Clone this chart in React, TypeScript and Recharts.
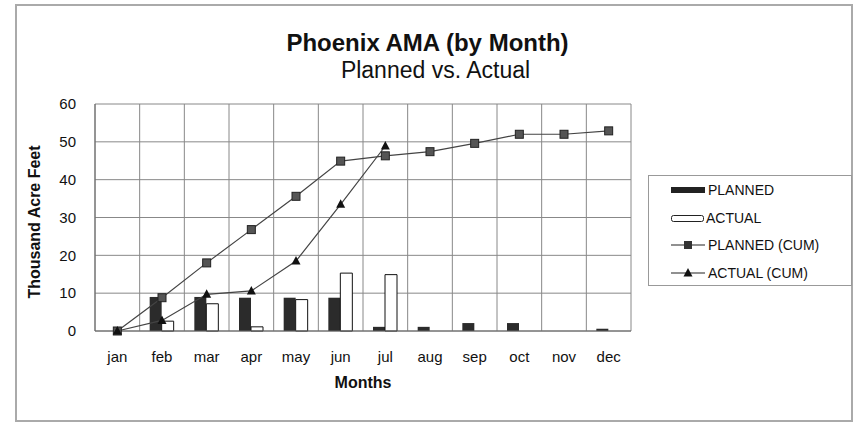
import React from 'react';
import { ComposedChart, Bar, Line, XAxis, YAxis, CartesianGrid } from 'recharts';

const months = ['jan', 'feb', 'mar', 'apr', 'may', 'jun', 'jul', 'aug', 'sep', 'oct', 'nov', 'dec'];
const planned = [0, 9.0, 9.0, 8.8, 8.8, 8.8, 1.1, 1.1, 2.1, 2.1, 0, 0.6];
const actual: (number | null)[] = [0, 2.6, 7.2, 1.1, 8.3, 15.3, 14.9, null, null, null, null, null];
const plannedCum = [0, 8.8, 18.0, 26.8, 35.6, 44.9, 46.3, 47.4, 49.6, 52.0, 52.0, 52.9];
const actualCum: (number | null)[] = [0, 2.8, 9.7, 10.6, 18.5, 33.5, 48.9, null, null, null, null, null];
const yTicks = [0, 10, 20, 30, 40, 50, 60];
const seriesNames = ['PLANNED', 'ACTUAL', 'PLANNED (CUM)', 'ACTUAL (CUM)'];

const data = months.map((m, i) => ({
  month: m,
  planned: planned[i],
  actual: actual[i],
  plannedCum: plannedCum[i],
  actualCum: actualCum[i],
}));

const FONT = '"Liberation Sans", Arial, sans-serif';

const SquareDot = (props: any) => {
  const { cx, cy, index } = props;
  if (cx == null || cy == null) return <g key={`s${index}`} />;
  return <rect key={`s${index}`} x={cx - 4} y={cy - 4} width={8} height={8} fill="#555" stroke="#222" strokeWidth={1} />;
};

const TriDot = (props: any) => {
  const { cx, cy, index } = props;
  if (cx == null || cy == null) return <g key={`t${index}`} />;
  return <polygon key={`t${index}`} points={`${cx},${cy - 5} ${cx - 4.5},${cy + 3.5} ${cx + 4.5},${cy + 3.5}`} fill="#111" />;
};

const LegendBox = () => {
  const rowH = 27.5;
  return (
    <div style={{ position: 'absolute', left: 648, top: 175, width: 204, height: 111, border: '1px solid #999', background: '#fff', boxSizing: 'border-box', fontFamily: FONT }}>
      {seriesNames.map((name, i) => (
        <div key={name} style={{ position: 'absolute', left: 0, top: 3 + i * rowH, height: 22, width: 204 }}>
          <svg width={40} height={22} style={{ position: 'absolute', left: 20, top: 0 }}>
            {i === 0 && <rect x={2} y={8} width={34} height={6} fill="#222" />}
            {i === 1 && <rect x={2.5} y={8.5} width={32} height={6} rx={2} fill="#fff" stroke="#222" strokeWidth={1} />}
            {i === 2 && (
              <g>
                <line x1={2} y1={11} x2={36} y2={11} stroke="#222" strokeWidth={1.2} />
                <rect x={15} y={7} width={8} height={8} fill="#333" />
              </g>
            )}
            {i === 3 && (
              <g>
                <line x1={2} y1={11} x2={36} y2={11} stroke="#222" strokeWidth={1.2} />
                <polygon points="19,6 14.5,14.5 23.5,14.5" fill="#111" />
              </g>
            )}
          </svg>
          <span style={{ position: 'absolute', left: i === 1 ? 57 : 59, top: 3, fontSize: 14, color: '#111', whiteSpace: 'nowrap' }}>{name}</span>
        </div>
      ))}
    </div>
  );
};

export default function App() {
  return (
    <div style={{ position: 'absolute', left: 0, top: 0, width: 855, height: 424, background: '#fff', fontFamily: FONT }}>
      <div style={{ position: 'absolute', left: 15, top: 4, width: 838, height: 418, border: '2px solid #aaa', boxSizing: 'border-box' }} />
      <div style={{ position: 'absolute', left: 0, top: 29, width: 855, textAlign: 'center', fontSize: 24, fontWeight: 'bold', color: '#111' }}>
        Phoenix AMA (by Month)
      </div>
      <div style={{ position: 'absolute', left: 8, top: 57, width: 855, textAlign: 'center', fontSize: 23, color: '#111' }}>
        Planned vs. Actual
      </div>
      <div style={{ position: 'absolute', left: 35, top: 222, transform: 'translate(-50%, -50%) rotate(-90deg)', fontSize: 16, fontWeight: 'bold', color: '#111', whiteSpace: 'nowrap' }}>
        Thousand Acre Feet
      </div>
      <div style={{ position: 'absolute', left: 363, top: 383, transform: 'translate(-50%, -50%)', fontSize: 16, fontWeight: 'bold', color: '#111', whiteSpace: 'nowrap' }}>
        Months
      </div>
      <ComposedChart
        width={855}
        height={424}
        data={data}
        margin={{ top: 104, right: 224, bottom: 63, left: 55 }}
        barGap={0}
        style={{ position: 'absolute', left: 0, top: 0 }}
      >
        <CartesianGrid
          stroke="#888"
          strokeWidth={1}
          verticalCoordinatesGenerator={({ offset }: any) =>
            Array.from({ length: months.length + 1 }, (_, i) => offset.left + (i * offset.width) / months.length)
          }
        />
        <XAxis
          dataKey="month"
          height={30}
          tickLine={false}
          axisLine={{ stroke: '#666' }}
          tickSize={6}
          tickMargin={14}
          tick={{ fontSize: 15, fill: '#111', fontFamily: FONT }}
          interval={0}
        />
        <YAxis
          width={40}
          domain={[0, 60]}
          ticks={yTicks}
          tickLine={false}
          axisLine={{ stroke: '#666' }}
          tickSize={6}
          tickMargin={13}
          tick={{ fontSize: 15, fill: '#111', fontFamily: FONT }}
        />
        <Bar dataKey="planned" barSize={12} fill="#2b2b2b" isAnimationActive={false} />
        <Bar dataKey="actual" barSize={12} fill="#fff" stroke="#111" strokeWidth={1} isAnimationActive={false} />
        <Line dataKey="plannedCum" type="linear" stroke="#444" strokeWidth={1.2} dot={<SquareDot />} activeDot={false} isAnimationActive={false} />
        <Line dataKey="actualCum" type="linear" stroke="#444" strokeWidth={1.2} dot={<TriDot />} activeDot={false} isAnimationActive={false} connectNulls={false} />
      </ComposedChart>
      <LegendBox />
    </div>
  );
}
